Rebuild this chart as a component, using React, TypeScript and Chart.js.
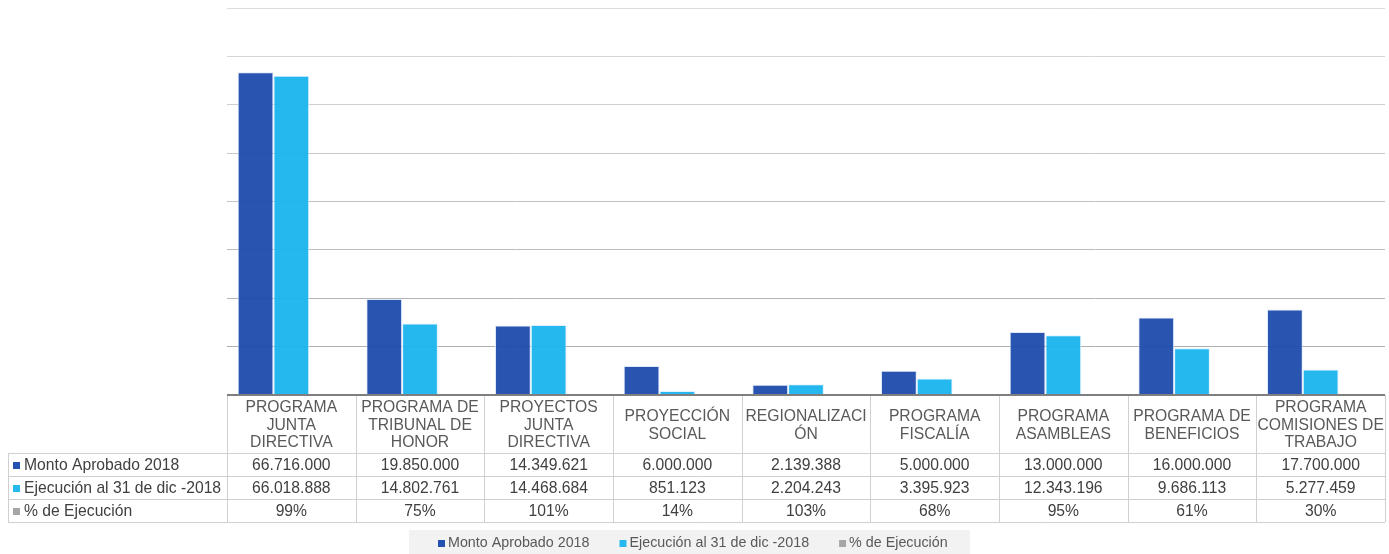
import React, { useEffect, useRef } from "react";
import { Chart, registerables } from "chart.js";

Chart.register(...registerables);

const categories: string[][] = [
  ["PROGRAMA", "JUNTA", "DIRECTIVA"],
  ["PROGRAMA DE", "TRIBUNAL DE", "HONOR"],
  ["PROYECTOS", "JUNTA", "DIRECTIVA"],
  ["PROYECCIÓN", "SOCIAL"],
  ["REGIONALIZACI", "ÓN"],
  ["PROGRAMA", "FISCALÍA"],
  ["PROGRAMA", "ASAMBLEAS"],
  ["PROGRAMA DE", "BENEFICIOS"],
  ["PROGRAMA", "COMISIONES DE", "TRABAJO"],
];

const seriesNames = ["Monto Aprobado 2018", "Ejecución al 31 de dic -2018", "% de Ejecución"];
const montoAprobado = [66716000, 19850000, 14349621, 6000000, 2139388, 5000000, 13000000, 16000000, 17700000];
const ejecucion = [66018888, 14802761, 14468684, 851123, 2204243, 3395923, 12343196, 9686113, 5277459];
const porcentaje = [0.99, 0.75, 1.01, 0.14, 1.03, 0.68, 0.95, 0.61, 0.30];

const colors = ["rgba(30,75,172,0.95)", "rgba(25,180,238,0.95)", "#a6a6a6"];
const swatch = ["#2452b0", "#27b9ee", "#a6a6a6"];

const fmtNum = (v: number) => v.toString().replace(/\B(?=(\d{3})+(?!\d))/g, ".");
const fmtPct = (v: number) => Math.round(v * 100) + "%";

const FONT = '"Liberation Sans", Arial, sans-serif';

const tablePlugin = {
  id: "dataTable",
  afterDraw(chart: any) {
    const ctx = chart.ctx as CanvasRenderingContext2D;
    const x = chart.scales.x;
    const area = chart.chartArea;
    const n = categories.length;
    const colW = (area.right - area.left) / n;
    const top = area.bottom;
    const headerBottom = top + 58;
    const rowH = 23;
    const tableLeft = 8;
    const tableBottom = headerBottom + rowH * 3;

    ctx.save();
    ctx.strokeStyle = "#d0d0d0";
    ctx.lineWidth = 1;
    ctx.beginPath();
    for (let i = 0; i <= n; i++) {
      const px = Math.round(area.left + i * colW) + 0.5;
      ctx.moveTo(px, top);
      ctx.lineTo(px, tableBottom);
    }
    ctx.moveTo(tableLeft + 0.5, headerBottom);
    ctx.lineTo(tableLeft + 0.5, tableBottom);
    for (let r = 0; r <= 3; r++) {
      const py = Math.round(headerBottom + r * rowH) + 0.5;
      ctx.moveTo(tableLeft, py);
      ctx.lineTo(area.right, py);
    }
    ctx.stroke();

    ctx.strokeStyle = "#7f7f7f";
    ctx.lineWidth = 2;
    ctx.beginPath();
    ctx.moveTo(area.left, top);
    ctx.lineTo(area.right, top);
    ctx.stroke();

    ctx.fillStyle = "#595959";
    ctx.font = `15.7px ${FONT}`;
    ctx.textAlign = "center";
    ctx.textBaseline = "middle";
    const lh = 17.5;
    const headerMid = (top + headerBottom) / 2 + 1.5;
    categories.forEach((lines, i) => {
      const cx = x.getPixelForValue(i);
      const start = headerMid - ((lines.length - 1) * lh) / 2;
      lines.forEach((l, j) => ctx.fillText(l, cx, start + j * lh));
    });

    const rows = [montoAprobado.map(fmtNum), ejecucion.map(fmtNum), porcentaje.map(fmtPct)];
    ctx.fillStyle = "#404040";
    rows.forEach((vals, r) => {
      const cy = headerBottom + r * rowH + rowH / 2 + 1;
      vals.forEach((v, i) => {
        ctx.fillText(v, x.getPixelForValue(i), cy);
      });
    });

    ctx.textAlign = "left";
    seriesNames.forEach((name, r) => {
      const cy = headerBottom + r * rowH + rowH / 2 + 1;
      ctx.fillStyle = swatch[r];
      ctx.fillRect(13, Math.round(cy - 4), 7, 7);
      ctx.fillStyle = "#404040";
      ctx.fillText(name, 24, cy);
    });

    // legend
    const ly = 530;
    ctx.fillStyle = "#f2f2f2";
    ctx.fillRect(409, ly, 561, 24);
    ctx.font = `14.3px ${FONT}`;
    ctx.textBaseline = "middle";
    const gap = 30;
    let lx = 438;
    seriesNames.forEach((s, i) => {
      ctx.fillStyle = swatch[i];
      ctx.fillRect(lx, ly + 10, 7, 7);
      ctx.fillStyle = "#595959";
      ctx.fillText(s, lx + 10, ly + 13.5);
      lx += 10 + ctx.measureText(s).width + gap;
    });
    ctx.restore();
  },
};

export default function App() {
  const ref = useRef<HTMLCanvasElement | null>(null);
  useEffect(() => {
    if (!ref.current) return;
    const chart = new Chart(ref.current, {
      type: "bar",
      data: {
        labels: categories.map((c) => c.join(" ")),
        datasets: [
          { label: seriesNames[0], data: montoAprobado, backgroundColor: colors[0], borderColor: "rgba(220,230,250,0.9)", borderWidth: 1 },
          { label: seriesNames[1], data: ejecucion, backgroundColor: colors[1], borderColor: "rgba(220,240,255,0.9)", borderWidth: 1 },
          { label: seriesNames[2], data: porcentaje, backgroundColor: colors[2], borderWidth: 0 },
        ],
      },
      options: {
        responsive: false,
        animation: false,
        layout: { padding: { left: 227, right: 4, top: 8, bottom: 159 } },
        datasets: { bar: { categoryPercentage: 0.834, barPercentage: 1.0 } },
        plugins: { legend: { display: false }, tooltip: { enabled: false } },
        scales: {
          x: { display: false },
          y: {
            min: 0,
            max: 80000000,
            ticks: { display: false, stepSize: 10000000 },
            border: { display: false },
            grid: {
              drawTicks: false,
              color: (c: any) => {
                const t = (c.tick?.value ?? 0) / 80000000;
                const v = Math.round(168 + t * 52);
                return `rgb(${v},${v},${v})`;
              },
            },
            afterFit: (s: any) => {
              s.width = 0;
            },
          },
        },
      },
      plugins: [tablePlugin],
    });
    return () => chart.destroy();
  }, []);
  return (
    <div style={{ position: "absolute", left: 0, top: 0, width: 1389, height: 554, background: "#fff" }}>
      <canvas ref={ref} width={1389} height={554} />
    </div>
  );
}
